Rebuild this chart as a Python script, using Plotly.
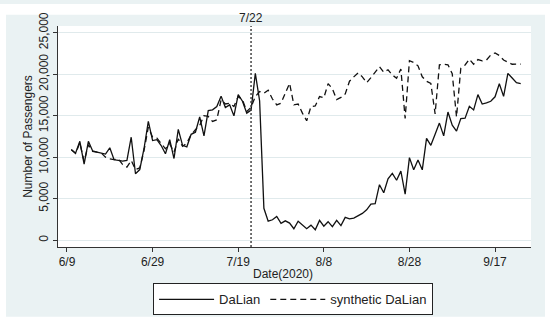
import pandas as pd
import plotly.graph_objects as go

start_date = "2020-06-10"
dalian = [10930, 10470, 11910, 9150, 11910, 10740, 10590, 10500, 10360, 11120,
          9680, 9600, 9520, 9600, 12400, 8000, 8500, 11040, 14300, 12000,
          12100, 11400, 10400, 12100, 9830, 13350, 11420, 11240, 12750, 13000,
          14840, 12560, 15600, 15700, 16100, 17350, 15980, 16300, 14970, 17530,
          16730, 15300, 15670, 20100, 16800, 3830, 2280, 2450, 2850, 2030,
          2320, 2050, 1370, 2280, 1780, 1370, 1800, 1250, 2380, 1670,
          2220, 1620, 2380, 1740, 2740, 2560, 2660, 2950, 3220, 3650,
          4340, 4400, 6680, 5700, 7390, 8050, 7210, 8310, 5540, 9940,
          8480, 9660, 8470, 12250, 11420, 12750, 14100, 12560, 15430, 13850,
          13130, 14650, 14700, 16120, 15690, 17530, 16390, 16540, 16730, 17270,
          18850, 17320, 20080, 19540, 18960, 18850]
synthetic = [10900, 10450, 11700, 9500, 11500, 10700, 10600, 10500, 10000, 9800,
             9700, 9800, 9100, 8800, 9600, 8500, 8700, 10800, 13600, 12400,
             12300, 11600, 11000, 11600, 10600, 12200, 11300, 11700, 12700, 13300,
             13800, 15000, 14900, 14300, 14500, 16900, 16400, 16500, 16100, 17300,
             16900, 15500, 16000, 17300, 17900, 17700, 18060, 17000, 16300, 16500,
             17600, 18900, 16300, 16400, 15300, 14380, 16100, 16160, 17300, 17150,
             18850, 18250, 16920, 17200, 17620, 19150, 19670, 20140, 19670, 18960,
             19570, 20230, 20900, 20230, 20530, 19900, 19510, 20620, 14650, 21620,
             21410, 21000, 19680, 19140, 18870, 15210, 21120, 21200, 21130, 20050,
             14840, 20710, 21100, 21810, 21190, 21750, 21600, 21700, 22300, 22550,
             22250, 21700, 21400, 21190, 21200, 21200]
x_tick_dates = ["2020-06-09", "2020-06-29", "2020-07-19", "2020-08-08", "2020-08-28", "2020-09-17"]
x_tick_labels = ["6/9", "6/29", "7/19", "8/8", "8/28", "9/17"]
y_ticks = [0, 5000, 10000, 15000, 20000, 25000]
event_date = "2020-07-22"
event_label = "7/22"

dates = pd.date_range(start_date, periods=len(dalian), freq="D")
font_family = "Liberation Sans, Arial, sans-serif"
panel = "#EAF2F3"

fig = go.Figure()
fig.add_trace(go.Scatter(x=dates, y=dalian, mode="lines", name="DaLian",
                         line=dict(color="#111111", width=1.3)))
fig.add_trace(go.Scatter(x=dates, y=synthetic, mode="lines", name="synthetic DaLian",
                         line=dict(color="#111111", width=1.3, dash="6px,4px")))

base = pd.Timestamp("2020-06-09")
xr = [base + pd.Timedelta(days=-2.1), base + pd.Timedelta(days=108.4)]

fig.add_shape(type="line", x0=event_date, x1=event_date, xref="x", yref="paper",
              y0=0, y1=1, line=dict(color="#444444", width=1.5, dash="2px,2px"))

# white frame around the grey-blue graph region
for (x0, x1, y0, y1) in [(-0.2, -0.1099, -0.4, 1.1), (1.0296, 1.1, -0.4, 1.1),
                         (-0.2, 1.1, 1.0513, 1.1), (-0.2, 1.1, -0.4, -0.316)]:
    fig.add_shape(type="rect", xref="paper", yref="paper", x0=x0, x1=x1, y0=y0, y1=y1,
                  line=dict(width=0), fillcolor="white", layer="below")

fig.add_annotation(x=event_date, xref="x", y=1, yref="paper", yanchor="bottom",
                   text=event_label, showarrow=False, yshift=-1,
                   font=dict(family=font_family, size=12, color="#222"))
fig.add_annotation(x=0.4757, xref="paper", y=-0.124, yref="paper", yanchor="middle",
                   text="Date(2020)", showarrow=False,
                   font=dict(family=font_family, size=12, color="#222"))

fig.update_xaxes(type="date", range=xr, tickvals=x_tick_dates, ticktext=x_tick_labels,
                 showgrid=False, zeroline=False, showline=True, linecolor="#333",
                 linewidth=1, ticks="outside", ticklen=4, tickcolor="#333",
                 tickfont=dict(family=font_family, size=12, color="#222"))
fig.update_yaxes(range=[-830, 25800], tickvals=y_ticks, tickformat=",",
                 showgrid=True, gridcolor="#E0EAEC", gridwidth=1, zeroline=False,
                 showline=True, linecolor="#333", linewidth=1, ticks="outside",
                 ticklen=4, tickcolor="#333", tickangle=-90,
                 tickfont=dict(family=font_family, size=12, color="#222"),
                 title=dict(text="Number of Passengers", standoff=2,
                            font=dict(family=font_family, size=12, color="#222")))

fig.update_layout(width=550, height=328, autosize=False,
                  margin=dict(l=58, r=19, t=17, b=77),
                  paper_bgcolor=panel, plot_bgcolor="white",
                  font=dict(family=font_family, color="#222"),
                  showlegend=True,
                  legend=dict(orientation="h", x=0.497, xanchor="center", y=-0.165,
                              yanchor="top", bgcolor="white", bordercolor="#222",
                              borderwidth=1, font=dict(family=font_family, size=13),
                              itemwidth=55, tracegroupgap=0, entrywidth=0))

fig.write_html("out.html", config={"displayModeBar": False},
               post_script="document.body.style.margin='0';")
